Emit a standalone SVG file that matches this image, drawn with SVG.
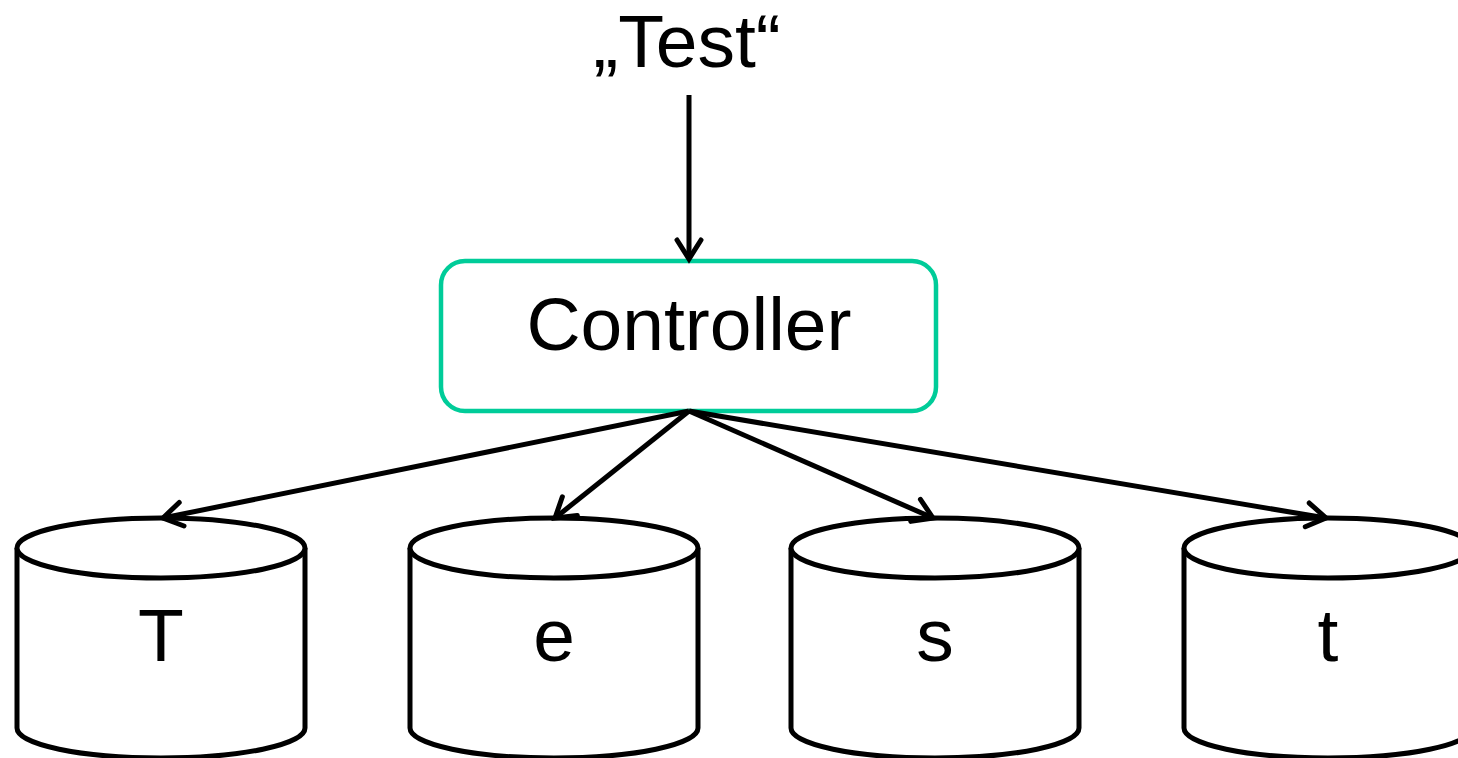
<svg xmlns="http://www.w3.org/2000/svg" width="1458" height="758" viewBox="0 0 1458 758">
<style>
.lbl{font-family:"Liberation Sans",Arial,sans-serif;font-size:75px;fill:#000;text-anchor:middle}
.cyl{fill:#fff;stroke:#000;stroke-width:5}
.edge{stroke:#000;stroke-width:5;fill:none;marker-end:url(#arr)}
</style>
<defs>
<marker id="arr" markerUnits="userSpaceOnUse" viewBox="-24 -16 28 32" markerWidth="28" markerHeight="32" refX="0" refY="0" orient="auto" overflow="visible">
<path d="M-19,-12 L0,0 L-19,12" fill="none" stroke="#000" stroke-width="5" stroke-linecap="round" stroke-linejoin="miter"/>
</marker>
</defs>
<rect width="1458" height="758" fill="#fff"/>
<g id="input">
<text class="lbl" x="687" y="67">„Test“</text>
</g>
<g id="controller">
<rect x="441" y="261" width="495" height="150" rx="24" ry="24" fill="#fff" stroke="#00CC99" stroke-width="4.5"/>
<text class="lbl" x="689" y="350">Controller</text>
</g>
<g id="db-T">
<path class="cyl" d="M17,548 L17,728 A144,30 0 0 0 305,728 L305,548"/>
<ellipse class="cyl" cx="161" cy="548" rx="144" ry="30"/>
<text class="lbl" x="161" y="661">T</text>
</g>
<g id="db-e">
<path class="cyl" d="M410,548 L410,728 A144,30 0 0 0 698,728 L698,548"/>
<ellipse class="cyl" cx="554" cy="548" rx="144" ry="30"/>
<text class="lbl" x="554" y="661">e</text>
</g>
<g id="db-s">
<path class="cyl" d="M791,548 L791,728 A144,30 0 0 0 1079,728 L1079,548"/>
<ellipse class="cyl" cx="935" cy="548" rx="144" ry="30"/>
<text class="lbl" x="935" y="661">s</text>
</g>
<g id="db-t">
<path class="cyl" d="M1184,548 L1184,728 A144,30 0 0 0 1472,728 L1472,548"/>
<ellipse class="cyl" cx="1328" cy="548" rx="144" ry="30"/>
<text class="lbl" x="1328" y="661">t</text>
</g>
<g id="connectors">
<line class="edge" x1="689" y1="95" x2="689" y2="259"/>
<line class="edge" x1="689" y1="411" x2="163" y2="518"/>
<line class="edge" x1="689" y1="411" x2="555" y2="518"/>
<line class="edge" x1="689" y1="411" x2="933" y2="518"/>
<line class="edge" x1="689" y1="411" x2="1326" y2="518"/>
</g>
</svg>
